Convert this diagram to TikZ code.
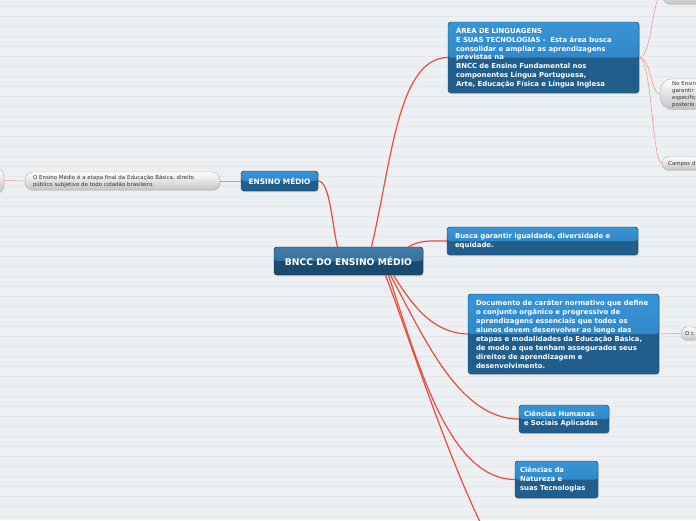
\documentclass[tikz,border=0pt]{standalone}
\usepackage{fontspec}
\setmainfont{DejaVu Sans}
\usetikzlibrary{shadows}
\definecolor{bgpaper}{HTML}{EDF0F2}
\definecolor{bgrule}{HTML}{E4E7EA}
\definecolor{boxtop}{HTML}{3894D6}
\definecolor{boxmid}{HTML}{2C7CBC}
\definecolor{boxlow}{HTML}{225E8C}
\definecolor{roottop}{HTML}{2C6C9C}
\definecolor{rootlow}{HTML}{1B4A70}
\definecolor{linkred}{HTML}{E84C3E}
\definecolor{pillgray}{HTML}{C4C4C4}

\begin{document}
\begin{tikzpicture}[x=1pt,y=-1pt,
  bluebox/.style={draw=boxlow!70!black, line width=0.4pt, rounded corners=3pt,
    fill=boxlow, text=white, font=\bfseries\fontsize{6.9}{8.7}\selectfont,
    align=left, inner xsep=8pt, inner ysep=3pt,
    drop shadow={opacity=0.25,shadow xshift=0.6pt,shadow yshift=-1.2pt},
    path picture={\fill[top color=boxtop, bottom color=boxmid]
      (path picture bounding box.north west) rectangle (path picture bounding box.east);}},
  rootbox/.style={bluebox, fill=rootlow, draw=rootlow!70!black,
    font=\bfseries\fontsize{9.2}{11}\selectfont, align=center,
    path picture={\fill[top color=roottop!90!white, bottom color=roottop]
      (path picture bounding box.north west) rectangle (path picture bounding box.east);}},
  pill/.style={draw=gray!60, line width=0.4pt, rounded corners=8pt,
    top color=white, bottom color=pillgray, text=black!80,
    font=\fontsize{5.45}{7}\selectfont, align=left, inner xsep=8pt, inner ysep=2pt,
    drop shadow={opacity=0.2,shadow xshift=0.5pt,shadow yshift=-1pt}},
  link/.style={draw=linkred, line width=1.2pt},
  sublink/.style={draw=linkred!65, line width=0.5pt}]
\useasboundingbox (0,0) rectangle (696,520);
\clip (0,0) rectangle (696,520);
% paper
\fill[bgpaper] (0,0) rectangle (696,520);
\foreach \y in {6,16,...,516} \draw[bgrule, line width=0.6pt] (0,\y) -- (696,\y);

% centre and main branches
\node[rootbox, minimum width=149pt, minimum height=28pt] (bncc) at (348.5,261) {BNCC DO ENSINO MÉDIO};
\node[bluebox, font=\bfseries\fontsize{7.4}{8}\selectfont, align=center, inner xsep=4pt, minimum width=77pt, minimum height=20pt] (ensino) at (279.5,181) {ENSINO MÉDIO};
\node[bluebox, text width=175pt, minimum height=71pt] (linguagens) at (543.5,57.5) {ÁREA DE LINGUAGENS\\ E SUAS TECNOLOGIAS -~ Esta área busca\\ consolidar e ampliar as aprendizagens\\ previstas na\\ BNCC de Ensino Fundamental nos\\ componentes Língua Portuguesa,\\ Arte, Educação Física e Língua Inglesa};
\node[bluebox, text width=175pt, minimum height=28pt] (busca) at (542.5,241) {Busca garantir igualdade, diversidade e\\ equidade.};
\node[bluebox, text width=175pt, minimum height=80pt, font=\bfseries\fontsize{6.9}{9}\selectfont] (documento) at (563.5,334) {Documento de caráter normativo que define\\ o conjunto orgânico e progressivo de\\ aprendizagens essenciais que todos os\\ alunos devem desenvolver ao longo das\\ etapas e modalidades da Educação Básica,\\ de modo a que tenham assegurados seus\\ direitos de aprendizagem e\\ desenvolvimento.};
\node[bluebox, inner xsep=5pt, text width=80pt, minimum height=28pt, font=\bfseries\fontsize{6.9}{9.5}\selectfont] (humanas) at (564,419) {Ciências Humanas\\ e Sociais Aplicadas};
\node[bluebox, inner xsep=5pt, text width=73pt, minimum height=37pt, font=\bfseries\fontsize{6.9}{9}\selectfont] (natureza) at (556.5,479.5) {Ciências da\\ Natureza e\\ suas Tecnologias};
\coordinate (offpage) at (482,526);

% grey notes
\node[pill, text width=179pt, minimum height=18pt] (etapa) at (122.5,181) {O Ensino Médio é a etapa final da Educação Básica, direito\\ público subjetivo de todo cidadão brasileiro.};
\node[pill, minimum width=64pt, minimum height=25pt] (anterior) at (-28,180.5) {};
\node[pill, anchor=west, minimum width=80pt, minimum height=18pt] (topnote) at (662,-5) {};
\node[pill, anchor=west, inner xsep=12pt, text width=40pt, minimum height=30pt, rounded corners=12pt] (noensino) at (660,94) {No Ensin\\ garantir\\ específic\\ posterio};
\node[pill, anchor=west, inner xsep=6pt, minimum height=13pt, rounded corners=6pt] (campos) at (662,163.5) {Campos d};
\node[pill, anchor=west, inner xsep=4pt, minimum height=13pt, rounded corners=6pt] (ocampo) at (681,333.5) {O c};

% connectors
\draw[link] (ensino.east) .. controls (330,181) and (332,225) .. ([xshift=-11pt]bncc.north);
\draw[link] ([xshift=23pt]bncc.north) .. controls (392,160) and (398,58) .. (linguagens.west);
\draw[link] ([xshift=60pt]bncc.north) .. controls (420,240) and (430,241) .. (busca.west);
\draw[link] ([xshift=45pt]bncc.south) .. controls (415,310) and (435,333) .. (documento.west);
\draw[link] ([xshift=42pt]bncc.south) .. controls (425,340) and (460,419) .. (humanas.west);
\draw[link] ([xshift=40pt]bncc.south) .. controls (420,370) and (450,479) .. (natureza.west);
\draw[link] ([xshift=37pt]bncc.south) .. controls (410,340) and (445,450) .. (offpage);
\draw[sublink] (linguagens.east) .. controls (652,58) and (652,-5) .. (topnote.west);
\draw[sublink] (linguagens.east) .. controls (652,58) and (650,94) .. (noensino.west);
\draw[sublink] (linguagens.east) .. controls (652,58) and (652,163.5) .. (campos.west);
\draw[sublink] (documento.east) -- (ocampo.west);
\draw[sublink] (anterior.east) -- (etapa.west);
\draw[sublink] (etapa.east) -- (ensino.west);
\end{tikzpicture}
\end{document}
